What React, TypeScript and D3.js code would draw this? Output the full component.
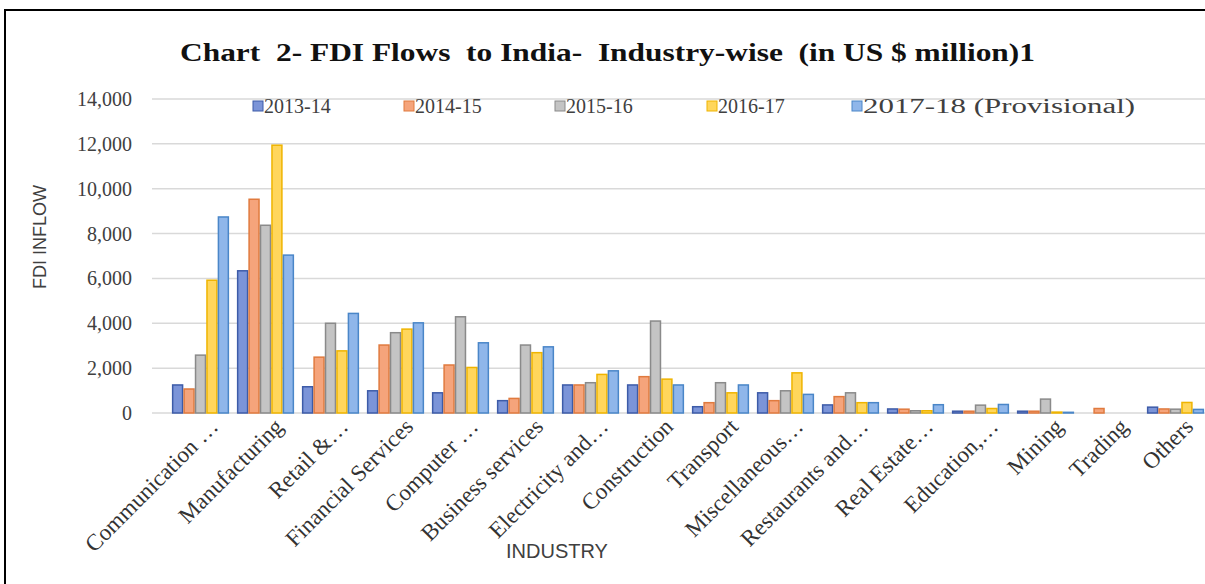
import React from "react";
import * as d3 from "d3";

const categories = [
  "Communication …", "Manufacturing", "Retail &…", "Financial Services", "Computer …",
  "Business services", "Electricity and…", "Construction", "Transport", "Miscellaneous…",
  "Restaurants and…", "Real Estate…", "Education,…", "Mining", "Trading", "Others",
];
const seriesNames = ["2013-14", "2014-15", "2015-16", "2016-17", "2017-18 (Provisional)"];
const v2013 = [1250, 6340, 1170, 990, 900, 550, 1250, 1250, 280, 900, 360, 180, 80, 80, 0, 260];
const v2014 = [1070, 9530, 2490, 3030, 2140, 650, 1250, 1620, 460, 550, 730, 170, 80, 80, 200, 180];
const v2015 = [2580, 8370, 4000, 3580, 4290, 3030, 1350, 4100, 1350, 990, 900, 100, 350, 620, 0, 170];
const v2016 = [5920, 11940, 2770, 3740, 2030, 2690, 1720, 1510, 900, 1790, 460, 100, 200, 40, 0, 470];
const v2017 = [8740, 7040, 4440, 4020, 3130, 2950, 1880, 1250, 1250, 830, 460, 370, 380, 30, 0, 160];
const yTicks = [0, 2000, 4000, 6000, 8000, 10000, 12000, 14000];

const fills = ["#7b94d8", "#f5a47b", "#c4c4c4", "#ffd65c", "#8fb6ea"];
const strokes = ["#3d5ba8", "#e07a3e", "#8a8a8a", "#efb400", "#4a86c8"];

export default function App() {
  const W = 1205, H = 584;
  const left = 168, right = 1208, top = 99, bottom = 413;
  const allSeries = [v2013, v2014, v2015, v2016, v2017];
  const x0 = d3.scaleBand<string>().domain(categories).range([left, right]).paddingInner(0.12).paddingOuter(0.06);
  const x1 = d3.scaleBand<number>().domain(d3.range(seriesNames.length)).range([0, x0.bandwidth()]);
  const y = d3.scaleLinear().domain([0, 14000]).range([bottom, top]);
  const fmt = d3.format(",");
  const serif = "'Liberation Serif', 'Times New Roman', serif";
  const sans = "'Liberation Sans', Arial, sans-serif";
  const legendX = [253, 404, 555, 707, 852];

  return (
    <svg width={W} height={H} style={{ position: "absolute", left: 0, top: 0, background: "#fff" }}>
      <rect x={5} y={10} width={W + 10} height={H + 10} fill="#fff" stroke="#000" strokeWidth={2} />
      <text x={180} y={61} fontFamily={serif} fontWeight="bold" fontSize={26} fill="#111"
        textLength={855} lengthAdjust="spacingAndGlyphs" style={{ whiteSpace: "pre" }}>
        {"Chart  2- FDI Flows  to India-  Industry-wise  (in US $ million)1"}
      </text>
      {yTicks.map((t) => (
        <g key={t}>
          <line x1={152} x2={W} y1={y(t)} y2={y(t)} stroke="#d9d9d9" strokeWidth={1.5} />
          <text x={132} y={y(t) + 7} textAnchor="end" fontFamily={serif} fontSize={20} fill="#404040">
            {fmt(t)}
          </text>
        </g>
      ))}
      {categories.map((c, ci) => (
        <g key={c} transform={`translate(${x0(c)},0)`}>
          {allSeries.map((s, si) =>
            s[ci] > 0 ? (
              <rect key={si} x={x1(si)! + 0.75} y={y(s[ci])} width={x1.bandwidth() - 1.5}
                height={Math.max(0, y(0) - y(s[ci]))} fill={fills[si]} stroke={strokes[si]} strokeWidth={1.5} />
            ) : null
          )}
        </g>
      ))}
      {categories.map((c) => {
        const cx = x0(c)! + x0.bandwidth() / 2;
        return (
          <text key={c} transform={`translate(${cx + 19},${428}) rotate(-45)`} textAnchor="end"
            fontFamily={serif} fontSize={23} fill="#333" style={{ whiteSpace: "pre" }}>
            {c}
          </text>
        );
      })}
      {seriesNames.map((n, i) => (
        <g key={n}>
          <rect x={legendX[i]} y={101} width={10} height={10} fill={fills[i]} stroke={strokes[i]} strokeWidth={1} />
          <text x={legendX[i] + 11} y={113} fontFamily={serif} fontSize={20} fill="#404040"
            textLength={i === 4 ? 272 : undefined} lengthAdjust="spacingAndGlyphs">
            {n}
          </text>
        </g>
      ))}
      <text transform={`translate(46,237) rotate(-90)`} textAnchor="middle" fontFamily={sans} fontSize={18} fill="#404040">
        FDI INFLOW
      </text>
      <text x={557} y={558} textAnchor="middle" fontFamily={sans} fontSize={20} fill="#404040">
        INDUSTRY
      </text>
    </svg>
  );
}
